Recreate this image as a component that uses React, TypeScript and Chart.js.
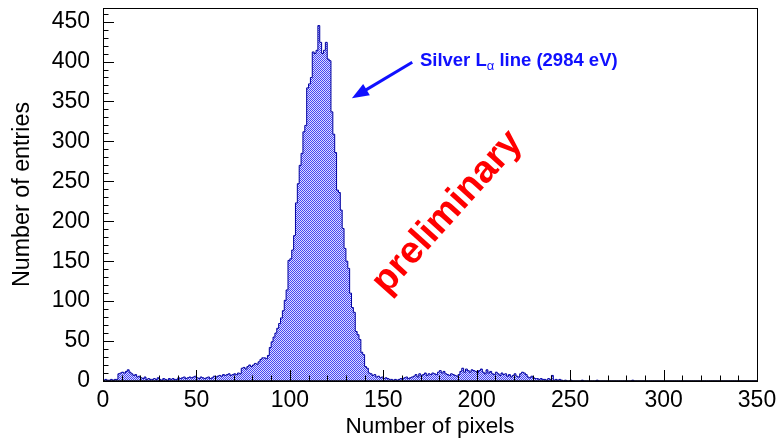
import { useEffect, useRef } from 'react';
import { Chart, registerables } from 'chart.js';

Chart.register(...registerables);

// Histogram of cluster sizes: entries per bin, one bin per pixel count (0..349)
const countsLow = [
  1, 2, 1, 1, 2, 1, 2, 2, 9, 10,
  11, 10, 12, 14, 11, 9, 7, 8, 5, 6,
  4, 3, 5, 2, 3, 2, 2, 3, 2, 4,
  2, 1, 3, 2, 1, 3, 2, 3, 2, 2,
  4, 3, 4, 5, 3, 4, 5, 4, 5, 6,
  4, 3, 5, 4, 3, 4, 5, 3, 4, 6,
  5, 6, 7, 6, 8, 7, 8, 9, 7, 8,
  9, 8, 10, 9, 16, 17, 15, 18, 20, 18,
];
const countsPeak = [
  20, 22, 21, 24, 27, 29, 29, 28, 32, 42,
  49, 55, 60, 66, 72, 79, 88, 101, 114, 151,
  153, 164, 182, 223, 247, 270, 285, 312, 320, 367,
  372, 380, 412, 410, 414, 445, 424, 410, 414, 424,
  403, 401, 337, 309, 286, 239, 236, 214, 191, 166,
  150, 141, 110, 92, 86, 62, 58, 52, 36, 33,
  18, 16, 10, 9, 7, 8, 5, 6, 4, 5,
];
const countsHigh = [
  3, 4, 3, 2, 2, 1, 2, 1, 2, 3,
  3, 4, 5, 3, 4, 5, 6, 8, 5, 9,
  7, 8, 10, 7, 9, 8, 10, 9, 8, 11,
  13, 10, 12, 9, 8, 7, 9, 8, 7, 6,
  8, 12, 16, 11, 15, 13, 11, 14, 13, 12,
  10, 13, 15, 11, 9, 14, 10, 12, 9, 8,
  11, 9, 7, 10, 8, 9, 6, 8, 5, 7,
  9, 6, 5, 9, 11, 10, 8, 5, 4, 6,
  4, 3, 3, 2, 3, 2, 2, 1, 3, 2,
  7, 1, 2, 1, 2, 1, 0, 1, 0, 0,
];
const countsTail = [
  1, 0, 0, 0, 0, 0, 1, 0, 0, 0,
  0, 0, 0, 0, 1, 0, 0, 0, 0, 0,
  0, 0, 0, 0, 0, 0, 0, 0, 0, 0,
  0, 0, 0, 1, 0, 0, 0, 0, 0, 0,
  0, 0, 0, 0, 0, 0, 0, 0, 0, 0,
  0, 0, 0, 0, 0, 0, 0, 0, 0, 0,
  0, 0, 0, 0, 0, 0, 0, 0, 0, 0,
  0, 0, 0, 0, 0, 0, 0, 0, 0, 0,
  0, 0, 0, 0, 0, 0, 0, 0, 0, 0,
  0, 0, 0, 0, 0, 0, 0, 0, 0, 0,
];
const counts = [...countsLow, ...countsPeak, ...countsHigh, ...countsTail];

const X_MIN = 0;
const X_MAX = 350;
const BIN_WIDTH = 1;
const Y_MAX = 467;
const xTickValues = [0, 50, 100, 150, 200, 250, 300, 350];
const yTickValues = [0, 50, 100, 150, 200, 250, 300, 350, 400, 450];

const X_TITLE = 'Number of pixels';
const Y_TITLE = 'Number of entries';
const LINE_LABEL_MAIN = 'Silver L';
const LINE_LABEL_SUB = 'α';
const LINE_LABEL_REST = ' line (2984 eV)';
const WATERMARK = 'preliminary';

// annotation anchors in data coordinates
const lineLabelAt = [169.6, 394];
const arrowFrom = [165.5, 399];
const arrowTo = [133.2, 354];
const watermarkAt = [184.3, 211];

const FONT = '"Liberation Sans", Arial, Helvetica, sans-serif';
const BLUE = '#1010ff';

// fine dotted blue fill, like a hatched histogram
function makeHatch(ctx: CanvasRenderingContext2D): CanvasPattern | string {
  const tile = document.createElement('canvas');
  tile.width = 2;
  tile.height = 2;
  const g = tile.getContext('2d');
  if (!g) return '#8484f6';
  g.fillStyle = '#dcdcff';
  g.fillRect(0, 0, 2, 2);
  g.fillStyle = '#4646f2';
  g.fillRect(0, 0, 1, 1);
  g.fillRect(1, 1, 1, 1);
  return ctx.createPattern(tile, 'repeat') || '#8484f6';
}

const framePlugin = {
  id: 'rootFrame',
  afterDatasetsDraw(chart: any) {
    const { ctx, chartArea: a, scales } = chart;
    const xs = scales.x;
    const ys = scales.y;
    ctx.save();
    ctx.strokeStyle = '#000';
    ctx.lineWidth = 1;
    ctx.beginPath();
    for (let v = X_MIN; v <= X_MAX; v += 10) {
      const px = Math.round(xs.getPixelForValue(v)) + 0.5;
      const len = v % 50 === 0 ? 11 : 5.5;
      ctx.moveTo(px, a.bottom);
      ctx.lineTo(px, a.bottom - len);
    }
    for (let v = 0; v <= Y_MAX; v += 10) {
      const py = Math.round(ys.getPixelForValue(v)) + 0.5;
      const len = v % 50 === 0 ? 11 : 5.5;
      ctx.moveTo(a.left, py);
      ctx.lineTo(a.left + len, py);
    }
    ctx.stroke();
    ctx.lineWidth = 1;
    ctx.strokeRect(Math.round(a.left) + 0.5, Math.round(a.top) + 0.5, Math.round(a.right - a.left), Math.round(a.bottom - a.top));
    ctx.beginPath();
    ctx.lineWidth = 1.5;
    ctx.moveTo(a.left, a.bottom);
    ctx.lineTo(a.right, a.bottom);
    ctx.stroke();
    ctx.restore();
  },
};

const annotationPlugin = {
  id: 'annotations',
  afterDraw(chart: any) {
    const { ctx, scales } = chart;
    const xs = scales.x;
    const ys = scales.y;
    ctx.save();

    // arrow pointing at the peak
    const x0 = xs.getPixelForValue(arrowFrom[0]);
    const y0 = ys.getPixelForValue(arrowFrom[1]);
    const x1 = xs.getPixelForValue(arrowTo[0]);
    const y1 = ys.getPixelForValue(arrowTo[1]);
    const ang = Math.atan2(y1 - y0, x1 - x0);
    const headLen = 17;
    const headHalf = 6.5;
    const bx = x1 - headLen * Math.cos(ang);
    const by = y1 - headLen * Math.sin(ang);
    ctx.strokeStyle = BLUE;
    ctx.fillStyle = BLUE;
    ctx.lineWidth = 3;
    ctx.beginPath();
    ctx.moveTo(x0, y0);
    ctx.lineTo(bx + 3 * Math.cos(ang), by + 3 * Math.sin(ang));
    ctx.stroke();
    ctx.beginPath();
    ctx.moveTo(x1, y1);
    ctx.lineTo(bx + headHalf * Math.sin(ang), by - headHalf * Math.cos(ang));
    ctx.lineTo(bx - headHalf * Math.sin(ang), by + headHalf * Math.cos(ang));
    ctx.closePath();
    ctx.fill();

    // line label with subscript
    let tx = xs.getPixelForValue(lineLabelAt[0]);
    const ty = ys.getPixelForValue(lineLabelAt[1]);
    ctx.textAlign = 'left';
    ctx.textBaseline = 'alphabetic';
    ctx.font = `bold 18.5px ${FONT}`;
    ctx.fillText(LINE_LABEL_MAIN, tx, ty);
    tx += ctx.measureText(LINE_LABEL_MAIN).width;
    ctx.font = `13px ${FONT}`;
    ctx.fillText(LINE_LABEL_SUB, tx, ty + 4);
    tx += ctx.measureText(LINE_LABEL_SUB).width;
    ctx.font = `bold 18.5px ${FONT}`;
    ctx.fillText(LINE_LABEL_REST, tx, ty);

    // rotated watermark
    const wx = xs.getPixelForValue(watermarkAt[0]);
    const wy = ys.getPixelForValue(watermarkAt[1]);
    ctx.translate(wx, wy);
    ctx.rotate((-48 * Math.PI) / 180);
    ctx.fillStyle = '#ff0000';
    ctx.font = `bold 38px ${FONT}`;
    ctx.textAlign = 'center';
    ctx.textBaseline = 'middle';
    ctx.fillText(WATERMARK, 0, 0);
    ctx.restore();
  },
};

export default function App() {
  const canvasRef = useRef<HTMLCanvasElement | null>(null);

  useEffect(() => {
    const canvas = canvasRef.current;
    if (!canvas) return;
    const ctx = canvas.getContext('2d');
    if (!ctx) return;

    const points = counts.map((c, i) => ({ x: X_MIN + i * BIN_WIDTH, y: c }));
    points.push({ x: X_MAX, y: counts[counts.length - 1] });

    const chart = new Chart(ctx, {
      type: 'line',
      data: {
        datasets: [
          {
            data: points,
            stepped: 'before',
            fill: 'origin',
            backgroundColor: makeHatch(ctx),
            borderColor: '#0000a0',
            borderWidth: 1,
            pointRadius: 0,
            tension: 0,
          },
        ],
      },
      options: {
        responsive: false,
        animation: false,
        events: [],
        layout: { padding: { top: 8, right: 20, left: 0, bottom: 0 } },
        plugins: {
          legend: { display: false },
          tooltip: { enabled: false },
        },
        scales: {
          x: {
            type: 'linear',
            min: X_MIN,
            max: X_MAX,
            grid: { display: false },
            border: { display: false },
            afterBuildTicks: (scale: any) => {
              scale.ticks = xTickValues.map((v) => ({ value: v }));
            },
            ticks: {
              padding: -2,
              color: '#000',
              maxRotation: 0,
              autoSkip: false,
              font: { family: FONT, size: 23 },
            },
            title: {
              display: true,
              text: X_TITLE,
              color: '#000',
              font: { family: FONT, size: 22.5 },
              padding: { top: 0, bottom: -2 },
            },
            afterFit: (scale: any) => {
              scale.height = 57;
              scale.paddingLeft = 0;
              scale.paddingRight = 0;
            },
          },
          y: {
            type: 'linear',
            min: 0,
            max: Y_MAX,
            grid: { display: false },
            border: { display: false },
            afterBuildTicks: (scale: any) => {
              scale.ticks = yTickValues.map((v) => ({ value: v }));
            },
            ticks: {
              padding: 5,
              color: '#000',
              autoSkip: false,
              font: { family: FONT, size: 23 },
            },
            title: {
              display: true,
              text: Y_TITLE,
              color: '#000',
              font: { family: FONT, size: 23.3 },
              padding: { top: 9, bottom: 0 },
            },
            afterFit: (scale: any) => {
              scale.width = 103;
              scale.paddingTop = 0;
              scale.paddingBottom = 0;
            },
          },
        },
      },
      plugins: [framePlugin, annotationPlugin],
    });

    return () => chart.destroy();
  }, []);

  return (
    <div style={{ position: 'absolute', left: 0, top: 0, width: 777, height: 438, background: '#fff' }}>
      <canvas ref={canvasRef} width={777} height={438} style={{ display: 'block' }} />
    </div>
  );
}
